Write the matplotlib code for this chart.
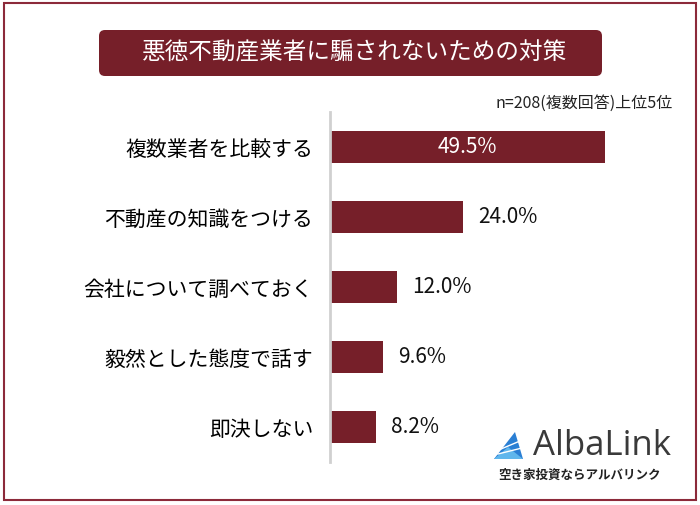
import matplotlib.pyplot as plt
from matplotlib.patches import FancyBboxPatch, Rectangle, Polygon

plt.rcParams['font.family'] = ['Noto Sans CJK JP', 'DejaVu Sans']

# data
categories = ['複数業者を比較する', '不動産の知識をつける', '会社について調べておく',
              '毅然とした態度で話す', '即決しない']
values = [49.5, 24.0, 12.0, 9.6, 8.2]
title = '悪徳不動産業者に騙されないための対策'
note = 'n=208(複数回答)上位5位'

red = '#761f29'
W, H = 700, 505

fig = plt.figure(figsize=(7, 5.05), dpi=100)

# overlay in pixel coords for frame, title box, logo
bg = fig.add_axes([0, 0, 1, 1])
bg.set_xlim(0, W)
bg.set_ylim(H, 0)
bg.axis('off')
bg.add_patch(Rectangle((4, 3), 692, 497, fill=False, ec='#8c2a3a', lw=1.5))
bg.add_patch(FancyBboxPatch((99, 30), 503, 46, boxstyle='round,pad=0,rounding_size=6',
                            fc=red, ec='none'))
bg.text(355, 53, title, color='white', fontsize=17, ha='center', va='center')
bg.text(673, 103, note, fontsize=11.5, ha='right', va='center', color='#222222')

# logo
bg.add_patch(Polygon([(494, 459), (515, 432), (523, 459)], closed=True, fc='#2a7fd4', ec='none'))
bg.add_patch(Polygon([(494, 459), (508, 447), (523, 459)], closed=True, fc='#5fb6ec', ec='none'))
bg.plot([501, 520], [449, 441], color='white', lw=1)
bg.plot([498, 522], [454, 448], color='white', lw=1)
bg.text(533, 446, 'AlbaLink', fontsize=25, family='Open Sans', color='#3a3a3a',
        ha='left', va='center')
bg.text(580, 475, '空き家投資ならアルバリンク', fontsize=9, ha='center', va='center',
        color='#222222', fontweight='bold')

# bar chart, 5.556 px per percent
ax = fig.add_axes([330 / W, (H - 462) / H, 361 / W, 350 / H])
ax.patch.set_alpha(0)
y = list(range(len(categories)))
ax.barh(y, values, height=0.46, color=red)
ax.set_xlim(0, 65)
ax.set_ylim(len(categories) - 0.5, -0.5)
ax.set_yticks(y)
ax.set_yticklabels(categories, fontsize=15)
ax.tick_params(axis='y', length=0, pad=12)
ax.set_xticks([])
for s in ['top', 'right', 'bottom']:
    ax.spines[s].set_visible(False)
ax.spines['left'].set_color('#d0d0d0')
ax.spines['left'].set_linewidth(2)

for i, v in enumerate(values):
    if i == 0:
        ax.text(v / 2, i, f'{v:.1f}%', color='white', fontsize=15,
                ha='center', va='center')
    else:
        ax.text(v + 2.7, i, f'{v:.1f}%', color='#111111', fontsize=15,
                ha='left', va='center')

fig.savefig('out.png', dpi=100)
